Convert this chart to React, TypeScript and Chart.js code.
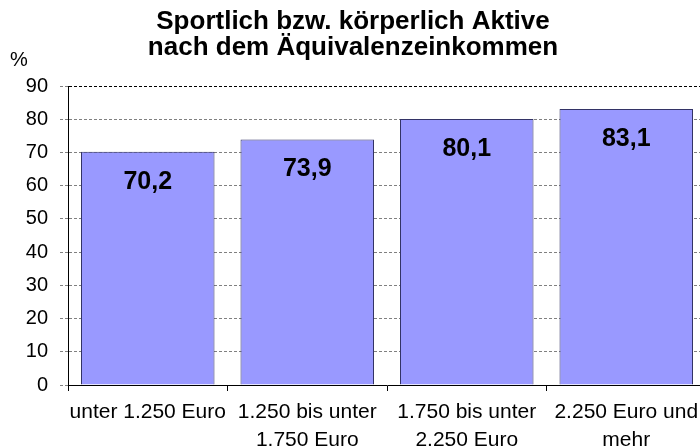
import React, { useEffect, useRef } from "react";
import { Chart, registerables } from "chart.js";

Chart.register(...registerables);

const categories: string[][] = [
  ["unter 1.250 Euro"],
  ["1.250 bis unter", "1.750 Euro"],
  ["1.750 bis unter", "2.250 Euro"],
  ["2.250 Euro und", "mehr"],
];
const values: number[] = [70.2, 73.9, 80.1, 83.1];
const titleLines: string[] = ["Sportlich bzw. körperlich Aktive", "nach dem Äquivalenzeinkommen"];
const yUnit = "%";
const yMin = 0;
const yMax = 90;
const yStep = 10;

const FONT = "'Liberation Sans', Arial, sans-serif";

const labelPlugin = {
  id: "valueLabels",
  afterDatasetsDraw(chart: any) {
    const ctx = chart.ctx;
    const meta = chart.getDatasetMeta(0);
    ctx.save();
    ctx.fillStyle = "#000";
    ctx.font = `bold 25px ${FONT}`;
    ctx.textAlign = "center";
    ctx.textBaseline = "middle";
    meta.data.forEach((bar: any, i: number) => {
      const v = values[i];
      ctx.fillText(v.toFixed(1).replace(".", ","), bar.x, bar.y + 30);
    });
    ctx.font = `20px ${FONT}`;
    ctx.fillText(yUnit, 19, 60);
    ctx.restore();
  },
};

export default function App() {
  const ref = useRef<HTMLCanvasElement | null>(null);
  useEffect(() => {
    if (!ref.current) return;
    const chart = new Chart(ref.current, {
      type: "bar",
      data: {
        labels: categories,
        datasets: [
          {
            data: values,
            backgroundColor: "#9999FF",
            borderColor: "#333366",
            borderWidth: 1,
            barPercentage: 0.837,
            categoryPercentage: 1,
          },
        ],
      },
      options: {
        animation: false,
        responsive: false,
        maintainAspectRatio: false,
        layout: { padding: { left: 0, right: 4, top: 0, bottom: 0 } },
        plugins: {
          legend: { display: false },
          tooltip: { enabled: false },
          title: {
            display: true,
            text: titleLines,
            color: "#000",
            font: { family: FONT, size: 26, weight: "bold", lineHeight: 1.0 },
            padding: { top: 9, bottom: 25 },
          },
        },
        scales: {
          x: {
            grid: {
              drawOnChartArea: false,
              drawTicks: true,
              tickLength: 6,
              tickColor: "#000",
              offset: true,
            },
            border: { color: "#000", width: 1 },
            ticks: {
              color: "#000",
              font: { family: FONT, size: 21, lineHeight: 1.3 },
              padding: 8,
              maxRotation: 0,
              autoSkip: false,
            },
            afterFit(scale: any) {
              scale.height = 61;
            },
          },
          y: {
            min: yMin,
            max: yMax,
            ticks: {
              stepSize: yStep,
              color: "#000",
              font: { family: FONT, size: 20 },
              padding: 12,
            },
            grid: {
              color: (c: any) => (c.tick && c.tick.value === yMax ? "#000" : "#808080"),
              tickColor: "#808080",
              tickLength: 8,
              tickBorderDash: [3, 2],
              lineWidth: 1,
            },
            border: { color: "#000", width: 1, dash: [3, 2] },
            afterFit(scale: any) {
              scale.width = 68;
            },
          },
        },
      },
      plugins: [labelPlugin],
    } as any);
    return () => chart.destroy();
  }, []);
  return (
    <div style={{ position: "fixed", left: 0, top: 0, width: 700, height: 446, overflow: "hidden", background: "#fff" }}>
      <canvas ref={ref} width={710} height={446} style={{ width: 710, height: 446, display: "block" }} />
    </div>
  );
}
